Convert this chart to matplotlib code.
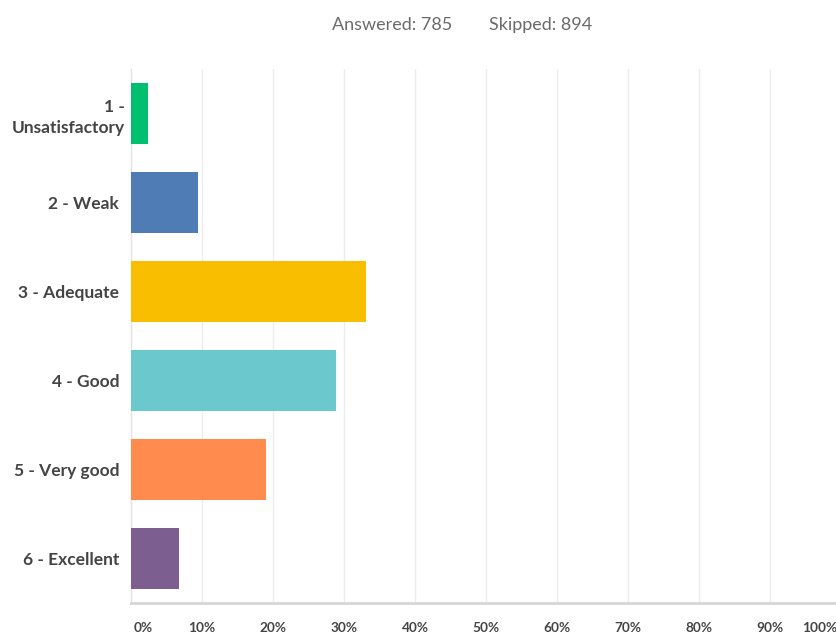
import matplotlib
matplotlib.use("Agg")
import matplotlib.pyplot as plt
from matplotlib.transforms import blended_transform_factory, ScaledTranslation

# Survey response shares (percent of respondents)
categories = ["1 -\nUnsatisfactory", "2 - Weak", "3 - Adequate", "4 - Good",
              "5 - Very good", "6 - Excellent"]
shares = [2.4, 9.5, 33.1, 28.9, 19.0, 6.7]
bar_colors = ["#00BF6F", "#507CB6", "#F9BE00", "#6BC8CD", "#FF8B4F", "#7D5E90"]
tick_values = [0, 10, 20, 30, 40, 50, 60, 70, 80, 90, 100]
tick_labels = ["0%", "10%", "20%", "30%", "40%", "50%", "60%", "70%", "80%",
               "90%", "100%"]
answered = 785
skipped = 894

plt.rcParams["font.family"] = ["Lato", "DejaVu Sans"]

W, H = 837, 633
fig = plt.figure(figsize=(W / 100, H / 100), dpi=100)
left, right, top, bottom = 131, 841, 69, 603
ax = fig.add_axes([left / W, 1 - bottom / H, (right - left) / W, (bottom - top) / H])

ypos = list(range(len(categories)))
ax.barh(ypos, shares, height=0.68, color=bar_colors, zorder=3)
ax.set_ylim(len(categories) - 0.5, -0.5)
ax.set_xlim(0, 100)

# light vertical grid
for v in tick_values[1:]:
    ax.axvline(v, color="#ececec", lw=1, zorder=1)

for s in ["top", "right"]:
    ax.spines[s].set_visible(False)
ax.spines["left"].set_color("#e2e2e2")
ax.spines["left"].set_linewidth(1)
ax.spines["bottom"].set_color("#d6d6d6")
ax.spines["bottom"].set_linewidth(2)

ax.set_yticks(ypos)
ax.set_yticklabels(categories, fontsize=12.5, fontweight="bold", color="#444444",
                   ha="right", linespacing=1.35)
ax.tick_params(axis="y", length=0, pad=8.5)
# the wrapped first label sits a little closer to the axis
first = ax.get_yticklabels()[0]
first.set_transform(first.get_transform() + ScaledTranslation(6 / 100, 0, fig.dpi_scale_trans))

ax.set_xticks(tick_values)
ax.set_xticklabels([])
ax.tick_params(axis="x", length=0)
trans = blended_transform_factory(ax.transData, fig.transFigure)
for v, lab in zip(tick_values, tick_labels):
    ha = "center"
    x = v
    if v == 0:
        ha, x = "left", 0.3
    elif v == 100:
        ha, x = "right", 99.4
    ax.text(x, 1 - 628 / H, lab, transform=trans, ha=ha, va="center",
            fontsize=9.8, fontweight="bold", color="#444444")

fig.text(332 / W, 1 - 25 / H, f"Answered: {answered}", ha="left", va="center",
         fontsize=13, color="#6b6b6b")
fig.text(592 / W, 1 - 25 / H, f"Skipped: {skipped}", ha="right", va="center",
         fontsize=13, color="#6b6b6b")

fig.savefig("out.png", dpi=100)
